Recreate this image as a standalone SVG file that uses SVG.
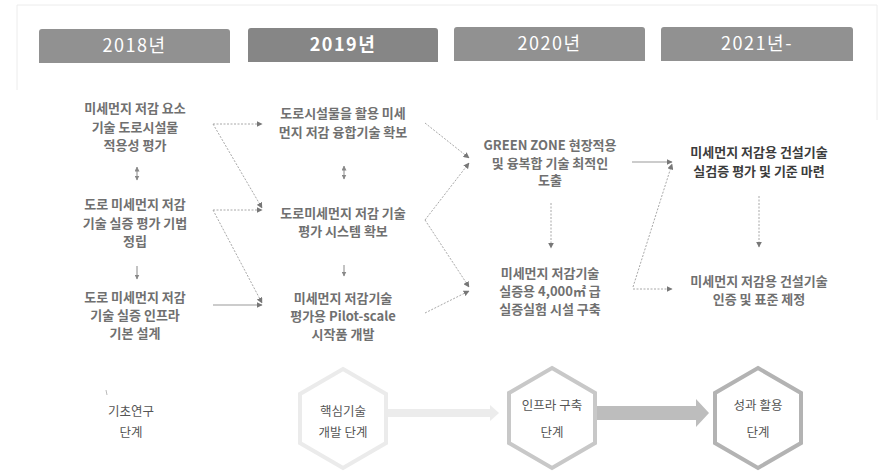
<svg xmlns="http://www.w3.org/2000/svg" width="882" height="471" viewBox="0 0 882 471">
<defs>
<marker id="ah" viewBox="0 0 10 10" refX="9" refY="5" markerWidth="6" markerHeight="6" orient="auto" markerUnits="userSpaceOnUse">
<path d="M0,0 L10,5 L0,10 Z" fill="#777"/>
</marker>
<marker id="ahs" viewBox="0 0 10 10" refX="9" refY="5" markerWidth="5" markerHeight="5" orient="auto-start-reverse" markerUnits="userSpaceOnUse">
<path d="M0,0 L10,5 L0,10 Z" fill="#888"/>
</marker>
<style>
.hdr{fill:#919191}
.hdrt{font-family:"Noto Sans CJK KR","Noto Sans",sans-serif;font-size:18px;fill:#fff;text-anchor:middle;letter-spacing:1.5px}
.t{font-family:"Noto Sans CJK KR","Noto Sans",sans-serif;font-size:13px;font-weight:700;fill:#707070;text-anchor:middle}
.td{fill:#3c3c3c;font-size:13px}
.b{font-family:"Noto Sans CJK KR","Noto Sans",sans-serif;font-size:12.5px;fill:#555;text-anchor:middle}
.c{fill:none;stroke:#a8a8a8;stroke-width:1;stroke-dasharray:2 1.5}
.cs{fill:none;stroke:#999;stroke-width:1}
.sm{fill:none;stroke:#888;stroke-width:1}
.hex{fill:#fff;stroke-width:4}
</style>
</defs>
<rect width="882" height="471" fill="#fff"/>
<path d="M17,90 L17,5 L877,5 L877,120" fill="none" stroke="#ececec" stroke-width="1"/>

<g id="h2018"><path class="hdr" d="M39,63 L39,32 Q39,29 42,29 L227,29 Q230,29 230,32 L230,63 Z"/><text class="hdrt" x="134.5" y="52">2018년</text></g>
<g id="h2019"><path d="M248,62 L248,31 Q248,28 251,28 L435,28 Q438,28 438,31 L438,62 Z" fill="#868686"/><text class="hdrt" x="343" y="51" font-weight="700">2019년</text></g>
<g id="h2020"><path class="hdr" d="M454,61 L454,30 Q454,27 457,27 L642,27 Q645,27 645,30 L645,61 Z"/><text class="hdrt" x="549.5" y="50">2020년</text></g>
<g id="h2021"><path class="hdr" d="M661,61 L661,30 Q661,27 664,27 L850,27 Q853,27 853,30 L853,61 Z"/><text class="hdrt" x="757" y="50">2021년-</text></g>

<g id="n1a"><text class="t" x="135" y="113">미세먼지 저감 요소</text><text class="t" x="135" y="131.5">기술 도로시설물</text><text class="t" x="135" y="150">적용성 평가</text></g>
<g id="n1b"><text class="t" x="135" y="209">도로 미세먼지 저감</text><text class="t" x="135" y="227.5">기술 실증 평가 기법</text><text class="t" x="135" y="246">정립</text></g>
<g id="n1c"><text class="t" x="135" y="302">도로 미세먼지 저감</text><text class="t" x="135" y="320">기술 실증 인프라</text><text class="t" x="135" y="338">기본 설계</text></g>

<g id="n2a"><text class="t" x="343" y="118">도로시설물을 활용 미세</text><text class="t" x="343" y="136.5">먼지 저감 융합기술 확보</text></g>
<g id="n2b"><text class="t" x="343" y="218">도로미세먼지 저감 기술</text><text class="t" x="343" y="236">평가 시스템 확보</text></g>
<g id="n2c"><text class="t" x="343" y="303">미세먼지 저감기술</text><text class="t" x="343" y="321">평가용 Pilot-scale</text><text class="t" x="343" y="339">시작품 개발</text></g>

<g id="n3a"><text class="t" x="550" y="150">GREEN ZONE 현장적용</text><text class="t" x="550" y="167.5">및 융복합 기술 최적인</text><text class="t" x="550" y="185">도출</text></g>
<g id="n3b"><text class="t" x="550" y="278">미세먼지 저감기술</text><text class="t" x="550" y="296">실증용 4,000㎡ 급</text><text class="t" x="550" y="314">실증실험 시설 구축</text></g>

<g id="n4a"><text class="t td" x="759" y="157">미세먼지 저감용 건설기술</text><text class="t td" x="759" y="175.5">실검증 평가 및 기준 마련</text></g>
<g id="n4b"><text class="t" x="759" y="286" font-size="13.5">미세먼지 저감용 건설기술</text><text class="t" x="759" y="304" font-size="13.5">인증 및 표준 제정</text></g>

<g id="connectors">
<line class="sm" x1="137" y1="167" x2="137" y2="180" marker-start="url(#ahs)" marker-end="url(#ahs)"/>
<line class="sm" x1="137" y1="266" x2="137" y2="279" marker-end="url(#ahs)"/>
<line class="sm" x1="344" y1="166" x2="344" y2="179" marker-start="url(#ahs)" marker-end="url(#ahs)"/>
<line class="sm" x1="344" y1="265" x2="344" y2="276" marker-end="url(#ahs)"/>

<line class="c" x1="213" y1="124" x2="262" y2="124" marker-end="url(#ah)"/>
<line class="c" x1="213" y1="124" x2="262" y2="208" marker-end="url(#ah)"/>
<line class="c" x1="213" y1="210" x2="262" y2="210" marker-end="url(#ah)"/>
<line class="c" x1="213" y1="210" x2="262" y2="303" marker-end="url(#ah)"/>
<line class="cs" x1="213" y1="305" x2="262" y2="305" marker-end="url(#ah)"/>

<line class="c" x1="425" y1="123" x2="469" y2="158" marker-end="url(#ah)"/>
<line class="c" x1="425" y1="220" x2="469" y2="163" marker-end="url(#ah)"/>
<line class="c" x1="425" y1="220" x2="469" y2="287" marker-end="url(#ah)"/>
<line class="c" x1="425" y1="313" x2="469" y2="291" marker-end="url(#ah)"/>

<line class="c" x1="551" y1="203" x2="551" y2="248" marker-end="url(#ah)"/>

<line class="cs" x1="632" y1="162" x2="672" y2="162" marker-end="url(#ah)"/>
<line class="c" x1="633" y1="287" x2="672" y2="164" marker-end="url(#ah)"/>
<line class="c" x1="633" y1="289" x2="672" y2="289" marker-end="url(#ah)"/>

<line class="c" x1="759" y1="196" x2="759" y2="247" marker-end="url(#ah)"/>

<path d="M386,409 L490,409 L490,405 L499,413 L490,421 L490,417 L386,417 Z" fill="#ececec"/>
<path d="M594,406 L696,406 L696,399 L709,413 L696,427 L696,420 L594,420 Z" fill="#bdbdbd"/>
</g>

<g id="s1"><path d="M106,390 L107,395" stroke="#bbb" stroke-width="1"/><text class="b" x="131" y="416">기초연구</text><text class="b" x="131" y="437">단계</text></g>
<g id="s2"><polygon class="hex" stroke="#ebebeb" points="343,369 386,394 386,443 343,468 300,443 300,394"/><text class="b" x="343" y="416">핵심기술</text><text class="b" x="343" y="437">개발 단계</text></g>
<g id="s3"><polygon class="hex" stroke="#c8c8c8" points="552,368 595,393 595,443 552,468 509,443 509,393"/><text class="b" x="552" y="410">인프라 구축</text><text class="b" x="552" y="437">단계</text></g>
<g id="s4"><polygon class="hex" stroke="#b3b3b3" points="758,368 801,393 801,443 758,468 715,443 715,393"/><text class="b" x="758" y="410">성과 활용</text><text class="b" x="758" y="437">단계</text></g>
</svg>
